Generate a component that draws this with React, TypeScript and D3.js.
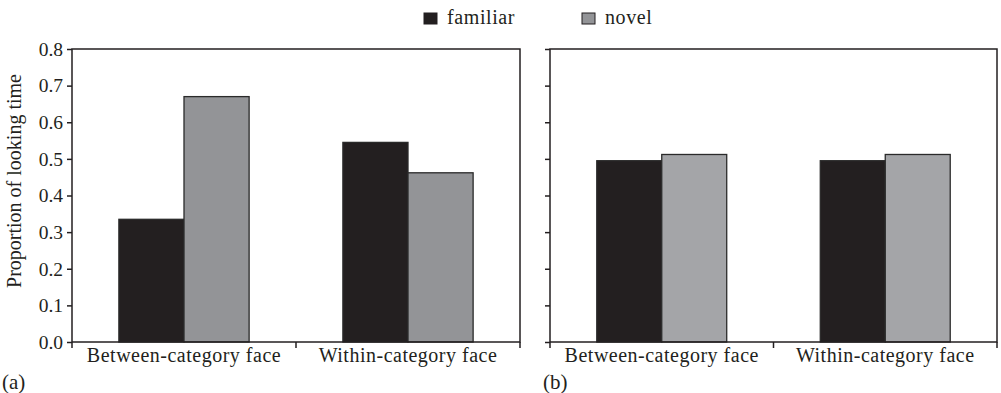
import * as d3 from 'd3';
import { useEffect, useRef } from 'react';

const categories = ['Between-category face', 'Within-category face'];
const seriesNames = ['familiar', 'novel'];
// values per panel: [familiar, novel] per category
const panelAFamiliar = [0.335, 0.545];
const panelANovel = [0.67, 0.462];
const panelBFamiliar = [0.495, 0.495];
const panelBNovel = [0.512, 0.512];
const yTicks = [0, 0.1, 0.2, 0.3, 0.4, 0.5, 0.6, 0.7, 0.8];
const panelLabels = ['(a)', '(b)'];

const W = 1001;
const H = 393;
const FONT = '"Liberation Serif", "DejaVu Serif", serif';
const INK = '#231f20';
const BLACK_BAR = '#231f20';
const GREY_A = '#939497';
const GREY_B = '#a4a5a8';

const App = () => {
  const chartRef = useRef<SVGSVGElement>(null);

  useEffect(() => {
    const svg = d3.select(chartRef.current);
    svg.selectAll('*').remove();

    const top = 49;
    const bottom = 342;
    const scaleY = d3.scaleLinear().domain([0, 0.8]).range([bottom, top]);

    const panels = [
      { left: 72, right: 520, fam: panelAFamiliar, nov: panelANovel, grey: GREY_A, labels: true, tag: panelLabels[0], tagX: 2 },
      { left: 550, right: 997, fam: panelBFamiliar, nov: panelBNovel, grey: GREY_B, labels: false, tag: panelLabels[1], tagX: 543 },
    ];

    panels.forEach((p) => {
      const g = svg.append('g');
      const scaleX = d3.scaleBand().domain(categories).range([p.left, p.right]);
      const sub = d3
        .scaleBand()
        .domain(seriesNames)
        .range([0, scaleX.bandwidth()])
        .paddingInner(0)
        .paddingOuter(0.72);

      const rows = categories.map((c, i) => ({ c, vals: [p.fam[i], p.nov[i]] }));

      g.selectAll('.bar-group')
        .data(rows)
        .enter()
        .append('g')
        .attr('transform', (d) => `translate(${scaleX(d.c)},0)`)
        .selectAll('rect')
        .data((d) => d.vals.map((v, j) => ({ name: seriesNames[j], v })))
        .enter()
        .append('rect')
        .attr('x', (d) => sub(d.name)!)
        .attr('y', (d) => scaleY(d.v))
        .attr('width', sub.bandwidth())
        .attr('height', (d) => bottom - scaleY(d.v))
        .style('fill', (d) => (d.name === 'familiar' ? BLACK_BAR : p.grey))
        .style('stroke', '#2a2a2a')
        .style('stroke-width', 1.3);

      // frame
      g.append('rect')
        .attr('x', p.left)
        .attr('y', top)
        .attr('width', p.right - p.left)
        .attr('height', bottom - top)
        .style('fill', 'none')
        .style('stroke', INK)
        .style('stroke-width', 1.5);

      // y ticks
      const yAxis = d3
        .axisLeft(scaleY)
        .tickValues(yTicks)
        .tickSize(5)
        .tickPadding(4)
        .tickFormat((d) => (p.labels ? d3.format('.1f')(d as number) : ''));
      const ya = g.append('g').attr('transform', `translate(${p.left},0)`).call(yAxis);
      ya.select('.domain').remove();
      ya.selectAll('line').style('stroke', INK).style('stroke-width', 1.5);
      ya.selectAll('text')
        .style('font-family', FONT)
        .style('font-size', '19.5px')
        .style('fill', INK);

      // x ticks at band edges
      const edges = [p.left, (p.left + p.right) / 2, p.right];
      g.selectAll('.xtick')
        .data(edges)
        .enter()
        .append('line')
        .attr('x1', (d) => d)
        .attr('x2', (d) => d)
        .attr('y1', bottom)
        .attr('y2', bottom + 6)
        .style('stroke', INK)
        .style('stroke-width', 1.5);

      g.selectAll('.xlabel')
        .data(categories)
        .enter()
        .append('text')
        .attr('x', (d) => scaleX(d)! + scaleX.bandwidth() / 2)
        .attr('y', 362)
        .attr('text-anchor', 'middle')
        .style('font-family', FONT)
        .style('font-size', '20px')
        .style('letter-spacing', '0.5px')
        .style('fill', INK)
        .text((d) => d);

      g.append('text')
        .attr('x', p.tagX)
        .attr('y', 389)
        .style('font-family', FONT)
        .style('font-size', '21px')
        .style('fill', INK)
        .text(p.tag);
    });

    // y axis title
    svg
      .append('text')
      .attr('transform', `translate(21, 181) rotate(-90)`)
      .attr('text-anchor', 'middle')
      .style('font-family', FONT)
      .style('font-size', '20px')
      .style('fill', INK)
      .text('Proportion of looking time');

    // legend
    const legend = [
      { name: seriesNames[0], x: 424, color: BLACK_BAR },
      { name: seriesNames[1], x: 582, color: GREY_A },
    ];
    const lg = svg
      .selectAll('.legend')
      .data(legend)
      .enter()
      .append('g')
      .attr('transform', (d) => `translate(${d.x},13)`);
    lg.append('rect')
      .attr('width', 13)
      .attr('height', 11)
      .style('fill', (d) => d.color)
      .style('stroke', INK)
      .style('stroke-width', 1);
    lg.append('text')
      .attr('x', 23)
      .attr('y', 11)
      .style('font-family', FONT)
      .style('font-size', '20px')
      .style('letter-spacing', '0.6px')
      .style('fill', INK)
      .text((d) => d.name);
  }, []);

  return (
    <svg
      ref={chartRef}
      width={W}
      height={H}
      style={{ position: 'absolute', left: 0, top: 0, background: '#fff' }}
    />
  );
};

export default App;
